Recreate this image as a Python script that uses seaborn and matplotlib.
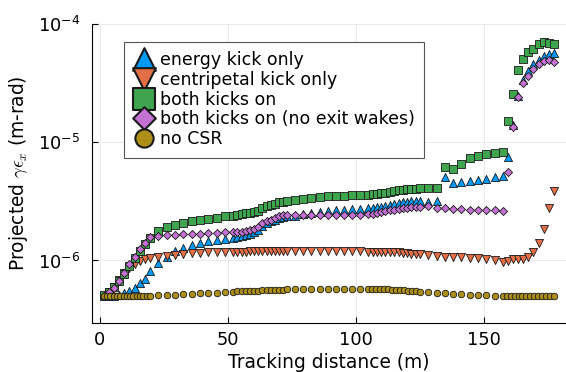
import numpy as np
import pandas as pd
import seaborn as sns
import matplotlib.pyplot as plt
from matplotlib.ticker import NullLocator

# tracking positions (m) of the CSR runs
x_csr = [
    1.5, 3.5, 5.5, 7.5, 9.5, 11.5, 13.5, 15.5, 17.5, 19.5,
    22.8, 26.0, 29.3, 32.5, 35.8, 39.0, 42.3, 45.6, 48.8,
    52.1, 53.7, 55.3, 56.9, 58.6, 60.2, 61.8, 63.4, 65.1, 66.7, 68.3, 69.9, 71.6, 73.1,
    76.3, 79.4, 82.6, 85.8, 88.9, 92.1, 95.2, 98.4, 101.6,
    104.8, 106.5, 108.2, 109.8, 111.5, 113.2, 114.9, 116.6, 118.2, 119.9, 121.6, 123.3, 125.0,
    128.2, 131.5, 134.7, 137.9, 141.1, 144.4, 147.6, 150.8, 154.1, 157.3,
    159.3, 161.3, 163.3, 165.3, 167.3, 169.3, 171.3, 173.3, 175.3, 177.3,
]
# tracking positions (m) of the run without CSR
x_nocsr = [
    1.5, 2.8, 4.1, 5.4, 6.6, 7.9, 9.2, 10.5, 11.8, 13.1, 14.4, 15.7, 16.9, 18.2, 19.5,
    22.8, 26.0, 29.3, 32.5, 35.8, 39.0, 42.3, 45.6, 48.8,
    52.1, 53.7, 55.3, 56.9, 58.6, 60.2, 61.8, 63.4, 65.1, 66.7, 68.3, 69.9, 71.6, 73.1,
    76.3, 79.4, 82.6, 85.8, 88.9, 92.1, 95.2, 98.4, 101.6,
    104.8, 106.4, 107.9, 109.5, 111.0, 112.6, 114.1, 115.7, 117.2, 118.8, 120.3, 121.9, 123.4, 125.0,
    128.2, 131.5, 134.7, 137.9, 141.1, 144.4, 147.6, 150.8, 154.1,
    157.3, 158.8, 160.4, 161.9, 163.5, 165.0, 166.5, 168.1, 169.6, 171.2, 172.7, 174.2, 175.8, 177.3,
]

# projected emittance, in 1e-6 m-rad
energy_kick = [
    0.50, 0.50, 0.505, 0.515, 0.53, 0.555, 0.58, 0.64, 0.70, 0.82,
    0.96, 1.07, 1.20, 1.28, 1.34, 1.40, 1.45, 1.50, 1.52,
    1.55, 1.57, 1.60, 1.63, 1.67, 1.73, 1.82, 1.94, 2.07, 2.14, 2.21, 2.29, 2.31, 2.36,
    2.40, 2.45, 2.50, 2.55, 2.60, 2.65, 2.69, 2.72, 2.74,
    2.76, 2.78, 2.81, 2.85, 2.91, 2.97, 3.02, 3.06, 3.10, 3.14, 3.16, 3.19, 3.20,
    3.13, 3.16, 5.05, 4.53, 4.58, 4.73, 4.83, 4.93, 5.05, 5.15,
    7.5, 14.0, 24.5, 33.5, 40.0, 46.0, 50.0, 53.6, 55.3, 57.0,
]
centripetal_kick = [
    0.50, 0.545, 0.60, 0.68, 0.78, 0.87, 0.93, 0.99, 1.03, 1.05,
    1.07, 1.10, 1.12, 1.14, 1.15, 1.16, 1.17, 1.17, 1.18,
    1.18, 1.19, 1.19, 1.19, 1.20, 1.20, 1.20, 1.20, 1.20, 1.20, 1.20, 1.20, 1.20, 1.20,
    1.20, 1.20, 1.20, 1.20, 1.20, 1.20, 1.20, 1.20, 1.20,
    1.19, 1.19, 1.19, 1.19, 1.18, 1.18, 1.17, 1.17, 1.16, 1.15, 1.14, 1.14, 1.13,
    1.12, 1.10, 1.08, 1.07, 1.06, 1.05, 1.04, 1.02, 1.00, 0.98,
    0.99, 1.02, 1.03, 1.03, 1.06, 1.17, 1.40, 1.86, 2.78, 3.84,
]
both_kicks = [
    0.51, 0.545, 0.595, 0.67, 0.77, 0.90, 1.04, 1.20, 1.38, 1.56,
    1.76, 1.92, 2.01, 2.07, 2.14, 2.21, 2.26, 2.29, 2.36,
    2.40, 2.44, 2.47, 2.50, 2.54, 2.57, 2.62, 2.78, 2.87, 2.95, 3.02, 3.10, 3.14, 3.16,
    3.22, 3.31, 3.40, 3.45, 3.49, 3.52, 3.54, 3.55, 3.58,
    3.60, 3.65, 3.67, 3.70, 3.75, 3.79, 3.87, 3.92, 3.95, 4.00, 4.03, 4.06, 4.11,
    4.11, 4.14, 6.14, 5.95, 6.59, 7.38, 7.70, 7.97, 8.10, 8.30,
    15.1, 25.7, 40.5, 51.0, 57.5, 62.0, 67.5, 70.0, 69.0, 67.5,
]
no_exit_wakes = [
    0.50, 0.54, 0.59, 0.67, 0.79, 0.93, 1.08, 1.24, 1.41, 1.57,
    1.60, 1.63, 1.65, 1.67, 1.68, 1.69, 1.70, 1.71, 1.73,
    1.73, 1.73, 1.74, 1.76, 1.82, 1.86, 1.92, 2.07, 2.14, 2.21, 2.29, 2.36, 2.41, 2.44,
    2.44, 2.44, 2.44, 2.44, 2.44, 2.44, 2.44, 2.44, 2.44,
    2.45, 2.48, 2.52, 2.56, 2.60, 2.65, 2.69, 2.73, 2.76, 2.79, 2.81, 2.84, 2.85,
    2.87, 2.78, 2.76, 2.74, 2.74, 2.69, 2.69, 2.65, 2.65, 2.64,
    5.6, 13.4, 24.0, 31.5, 36.4, 41.3, 45.5, 48.2, 49.3, 48.0,
]
no_csr = [
    0.500, 0.500, 0.500, 0.500, 0.500, 0.500, 0.500, 0.500, 0.500, 0.500, 0.500, 0.500, 0.500, 0.500, 0.502,
    0.508, 0.511, 0.515, 0.519, 0.523, 0.527, 0.531, 0.535, 0.539,
    0.544, 0.547, 0.549, 0.551, 0.553, 0.555, 0.557, 0.559, 0.561, 0.563, 0.565, 0.567, 0.568, 0.570,
    0.572, 0.574, 0.575, 0.576, 0.576, 0.577, 0.577, 0.577, 0.577,
    0.576, 0.575, 0.574, 0.573, 0.571, 0.569, 0.567, 0.565, 0.562, 0.559, 0.556, 0.553, 0.550, 0.546,
    0.540, 0.535, 0.530, 0.525, 0.520, 0.515, 0.510, 0.507, 0.505,
    0.503, 0.502, 0.501, 0.500, 0.500, 0.500, 0.500, 0.500, 0.500, 0.500, 0.500, 0.500, 0.500, 0.500,
]

labels = ["energy kick only", "centripetal kick only", "both kicks on",
          "both kicks on (no exit wakes)", "no CSR"]
colors = ["#009AFA", "#E36F47", "#3EA44E", "#C371D2", "#AC8E18"]
markers = ["^", "v", "s", "D", "o"]
sizes = [34, 34, 30, 17, 22]
series = [(x_csr, energy_kick), (x_csr, centripetal_kick), (x_csr, both_kicks),
          (x_csr, no_exit_wakes), (x_nocsr, no_csr)]

fig = plt.figure(figsize=(5.66, 3.72), dpi=100)
ax = fig.add_axes([91.5 / 566, 49 / 372, 474.5 / 566, 299 / 372])

for (xs, ys), lab, col, mk, s in zip(series, labels, colors, markers, sizes):
    df = pd.DataFrame({"s": xs, "emit": np.array(ys) * 1e-6})
    sns.scatterplot(data=df, x="s", y="emit", ax=ax, color=col, marker=mk, s=s,
                    edgecolor="#1a1a1a", linewidth=0.6, label=lab, zorder=3)

ax.set_yscale("log")
ax.set_xlim(-3.3, 182)
ax.set_ylim(2.96e-7, 1e-4)
ax.set_xticks([0, 50, 100, 150])
ax.set_yticks([1e-6, 1e-5, 1e-4], labels=[r"$10^{-6}$", r"$10^{-5}$", r"$10^{-4}$"])
ax.yaxis.set_minor_locator(NullLocator())

ax.set_xlabel("Tracking distance (m)", fontsize=13.4, labelpad=3)
ax.set_ylabel(r"Projected $\gamma\epsilon_x$ (m-rad)", fontsize=13.4,
              math_fontfamily="cm", labelpad=6)
ax.tick_params(direction="in", length=4, width=0.8, labelsize=12.8, pad=6)
ax.tick_params(axis="y", pad=8)
for side in ["top", "right"]:
    ax.spines[side].set_visible(False)
for side in ["left", "bottom"]:
    ax.spines[side].set_linewidth(0.8)
ax.grid(True, color="#ebebeb", linewidth=0.7)
ax.set_axisbelow(True)

leg = ax.legend(loc="upper left", bbox_to_anchor=(0.0685, 0.941), borderaxespad=0,
                fontsize=12.5, markerscale=2.8, labelspacing=0.1, handletextpad=0.3,
                borderpad=0.55, handlelength=1.2, scatteryoffsets=[0.5],
                frameon=True, fancybox=False, edgecolor="#555555", framealpha=1)
leg.get_frame().set_linewidth(0.8)
for h in leg.legend_handles:
    h.set_linewidth(1.5)

fig.savefig("out.png", dpi=100)
plt.close()
